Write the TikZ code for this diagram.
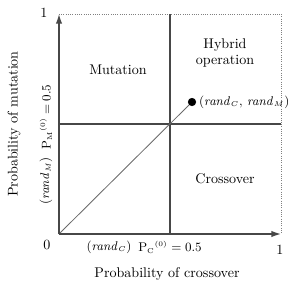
\documentclass[tikz,border=0pt]{standalone}
\usepackage{amsmath}
\usepackage{xcolor}
\definecolor{axisgrey}{HTML}{474747}
\definecolor{diaggrey}{HTML}{6A6A6A}
\usepackage{tikz}
\usetikzlibrary{arrows.meta}
\tikzset{
  axis/.style={-{Latex[length=2.4mm,width=1.6mm]}, axisgrey, line width=1pt},
  split/.style={axisgrey, line width=1pt},
  edge/.style={diaggrey, line width=0.6pt},
  bound/.style={gray, densely dotted, line width=0.6pt},
  region/.style={align=center, font=\normalsize},
  tick/.style={font=\normalsize, inner sep=1pt},
  mlabel/.style={font=\small, inner sep=1pt},
}
\newcommand{\rnd}[1]{\mathit{rand}_{\scriptscriptstyle #1}}
\newcommand{\pzero}[1]{\mathrm{P}_{\scriptscriptstyle\mathrm{#1}}{}^{\scriptscriptstyle(0)}}

\begin{document}
\begin{tikzpicture}[x=0.025cm, y=0.025cm]
  \useasboundingbox (-59,-58) rectangle (237,234);
  \coordinate (o) at (0,0);
  \coordinate (xe) at (222,0);
  \coordinate (ye) at (0,220);
  \coordinate (tr) at (222,220);
  \coordinate (pc) at (111,0);
  \coordinate (pm) at (0,110);
  \coordinate (pcup) at (111,220);
  \coordinate (pmr) at (222,110);
  \node[circle, fill=black, draw=black, inner sep=0pt, minimum size=1.9mm] (pt) at (133,132) {};
  % bounds and splits
  \draw[bound] (ye)--(tr); \draw[bound] (tr)--(xe);
  \draw[split] (pc)--(pcup); \draw[split] (pm)--(pmr);
  \draw[edge] (o)--(pt);
  \draw[axis] (o)--(xe); \draw[axis] (o)--(ye);
  % regions
  \node[region] (mu) at (59,164) {Mutation};
  \node[region] (hy) at (166,181) {Hybrid\\operation};
  \node[region] (cr) at (166,55) {Crossover};
  \node[mlabel, anchor=west] (rr) at ([xshift=1pt]pt.east) {$(\rnd{C},\, \rnd{M})$};
  % ticks
  \node[tick] (t0) at (-12,-11) {0};
  \node[tick] (ty) at (-15,221) {1};
  \node[tick] (tx) at (221,-16) {1};
  \node[mlabel] (rc) at (50,-13) {$(\rnd{C})$};
  \node[mlabel] (lc) at (111,-13) {$\pzero{C} = 0.5$};
  \node[mlabel, rotate=90] (rm) at (-13,53) {$(\rnd{M})$};
  \node[mlabel, rotate=90] (lm) at (-13,117) {$\pzero{M} = 0.5$};
  % axis titles
  \node[font=\normalsize] (xl) at (108,-40) {Probability of crossover};
  \node[font=\normalsize, rotate=90] (yl) at (-45,110) {Probability of mutation};
\end{tikzpicture}
\end{document}
